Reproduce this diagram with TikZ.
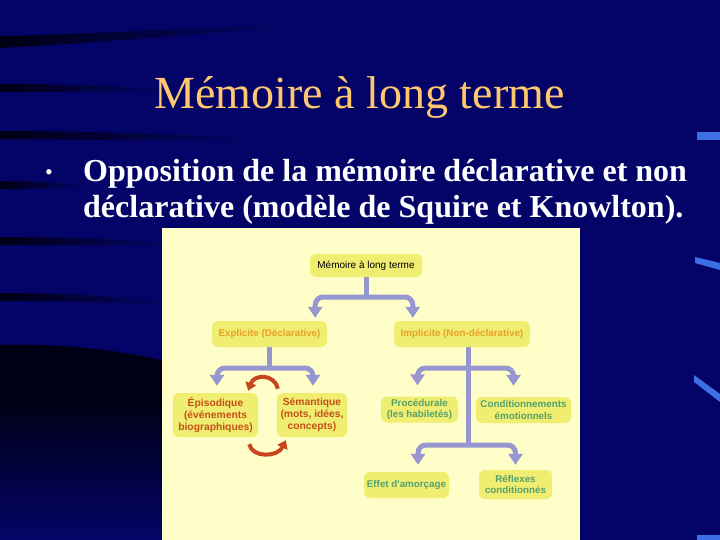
\documentclass[tikz,border=0pt]{standalone}
\usepackage{fontspec}
\setmainfont{Liberation Serif}
\newfontfamily\arialf{Liberation Sans}
\usetikzlibrary{arrows.meta}
\definecolor{bg}{RGB}{4,4,104}
\definecolor{streak}{RGB}{0,0,20}
\definecolor{titlec}{RGB}{255,200,110}
\definecolor{panel}{RGB}{255,253,200}
\definecolor{boxc}{RGB}{240,238,112}
\definecolor{connc}{RGB}{150,150,208}
\definecolor{orangec}{RGB}{230,160,40}
\definecolor{brownc}{RGB}{196,80,24}
\definecolor{greenc}{RGB}{84,160,112}
\definecolor{redc}{RGB}{200,70,30}
\definecolor{markc}{RGB}{60,110,230}
\begin{document}
\begin{tikzpicture}[x=1pt,y=-1pt,
  box/.style={fill=boxc, rounded corners=6pt, inner sep=0pt, align=center,
    font=\arialf\fontsize{9.8}{11.5}\selectfont\bfseries},
  conn/.style={draw=connc, line width=5pt},
  connarr/.style={conn, rounded corners=8pt,
    {Triangle[width=14pt,length=11pt]}-{Triangle[width=14pt,length=11pt]}},
  redarr/.style={draw=redc, line width=4pt, -{Triangle[width=11pt,length=8pt]}},
  streakband/.style={left color=streak, right color=bg},
  bluemark/.style={fill=markc},
]
\useasboundingbox (0,0) rectangle (720,540);
\fill[bg] (0,0) rectangle (720,540);
% background streaks
\shade[streakband] (0,36) .. controls (100,34) and (200,27) .. (290,24) -- (290,28) .. controls (200,33) and (100,43) .. (0,48) -- cycle;
\shade[streakband] (0,84) .. controls (60,84) and (120,86) .. (170,89) -- (170,91) .. controls (120,91) and (60,92) .. (0,92) -- cycle;
\shade[streakband] (0,131) .. controls (90,131) and (180,134) .. (260,139) -- (260,141) .. controls (180,140) and (90,140) .. (0,139) -- cycle;
\shade[streakband] (0,181) .. controls (30,181) and (60,183) .. (90,185) -- (90,187) .. controls (60,188) and (30,189) .. (0,189) -- cycle;
\shade[streakband] (0,237) .. controls (60,237) and (120,239) .. (170,243) -- (170,246) .. controls (120,245) and (60,245) .. (0,245) -- cycle;
\shade[streakband] (0,293) .. controls (60,293) and (120,296) .. (170,303) -- (170,306) .. controls (120,302) and (60,301) .. (0,301) -- cycle;
\fill[streak] (0,345) .. controls (60,343) and (120,350) .. (170,362) -- (170,400) -- (0,400) -- cycle;
\shade[top color=streak, bottom color=bg] (0,399) rectangle (170,540);
% right marks
\fill[bluemark] (697,132) rectangle (720,140);
\fill[bluemark] (695,257) -- (720,263) -- (720,270) -- (695,263) -- cycle;
\fill[bluemark] (694,375) -- (720,394) -- (720,402) -- (694,382) -- cycle;
\fill[bluemark] (697,535) rectangle (720,540);
% title and text
\node[font=\fontsize{46}{50}\selectfont, text=titlec, anchor=base, inner sep=0pt] (title) at (359.5,109) {Mémoire à long terme};
\node[text=white, font=\fontsize{22}{24}\selectfont, anchor=base, inner sep=0pt] (bul) at (49,180) {\textbullet};
\node[font=\bfseries\fontsize{32}{36}\selectfont, text=white, anchor=base west, inner sep=0pt] (l1) at (83,182) {Opposition de la mémoire déclarative et non};
\node[font=\bfseries\fontsize{32}{36}\selectfont, text=white, anchor=base west, inner sep=0pt] (l2) at (83,218) {déclarative (modèle de Squire et Knowlton).};
% panel
\fill[panel] (162,228) rectangle (580,540);
% boxes
\node[box, minimum width=112pt, minimum height=23pt, font=\arialf\fontsize{10}{12}\selectfont, text=black] (top) at (366,265.5) {Mémoire à long terme};
\node[box, minimum width=115pt, minimum height=26pt, text=orangec] (expl) at (269.5,334) {Explicite (Déclarative)};
\node[box, minimum width=136pt, minimum height=26pt, text=orangec] (impl) at (462,334) {Implicite (Non-déclarative)};
\node[box, minimum width=85pt, minimum height=44pt, text=brownc, font=\arialf\fontsize{10.3}{11.8}\selectfont\bfseries] (epi) at (215.5,415) {Épisodique\\(événements\\biographiques)};
\node[box, minimum width=70pt, minimum height=44pt, text=brownc, font=\arialf\fontsize{10.3}{11.8}\selectfont\bfseries] (sem) at (312,415) {Sémantique\\(mots, idées,\\concepts)};
\node[box, minimum width=77pt, minimum height=26pt, text=greenc] (proc) at (419.5,409.5) {Procédurale\\(les habiletés)};
\node[box, minimum width=95pt, minimum height=26pt, text=greenc] (cond) at (523.5,410) {Conditionnements\\émotionnels};
\node[box, minimum width=85pt, minimum height=26pt, text=greenc] (effet) at (406.5,485) {Effet d'amorçage};
\node[box, minimum width=73pt, minimum height=29pt, text=greenc] (refl) at (515.5,484.5) {Réflexes\\conditionnés};
% connectors
\coordinate (j1) at (366,297);
\coordinate (j2) at (269.5,368);
\coordinate (j3) at (468,368);
\coordinate (j4) at (468,445);
\draw[conn] (top.south) -- (j1);
\draw[connarr] ([xshift=-12pt,yshift=3pt]expl.north east) |- (j1) -| ([xshift=19pt,yshift=3pt]impl.north west);
\draw[conn] (expl.south) -- (j2);
\draw[connarr] ([xshift=1.5pt,yshift=7pt]epi.north) |- (j2) -| ([xshift=1pt,yshift=7pt]sem.north);
\draw[conn] (impl.south -| j3) -- (j4);
\draw[connarr] ([xshift=-2pt,yshift=11pt]proc.north) |- (j3) -| ([xshift=-10pt,yshift=11pt]cond.north);
\draw[connarr] ([xshift=11.5pt,yshift=7pt]effet.north) |- (j4) -| ([yshift=5pt]refl.north);
% red cycle arrows
\draw[redarr] ([xshift=1pt,yshift=4pt]sem.north west) .. controls +(-3,-15) and +(6,-17) .. ([xshift=-10pt,yshift=2pt]epi.north east);
\draw[redarr] ([xshift=-9pt,yshift=-7pt]epi.south east) .. controls +(3,14) and +(-8,17) .. ([xshift=9pt,yshift=-3pt]sem.south west);
\end{tikzpicture}
\end{document}
